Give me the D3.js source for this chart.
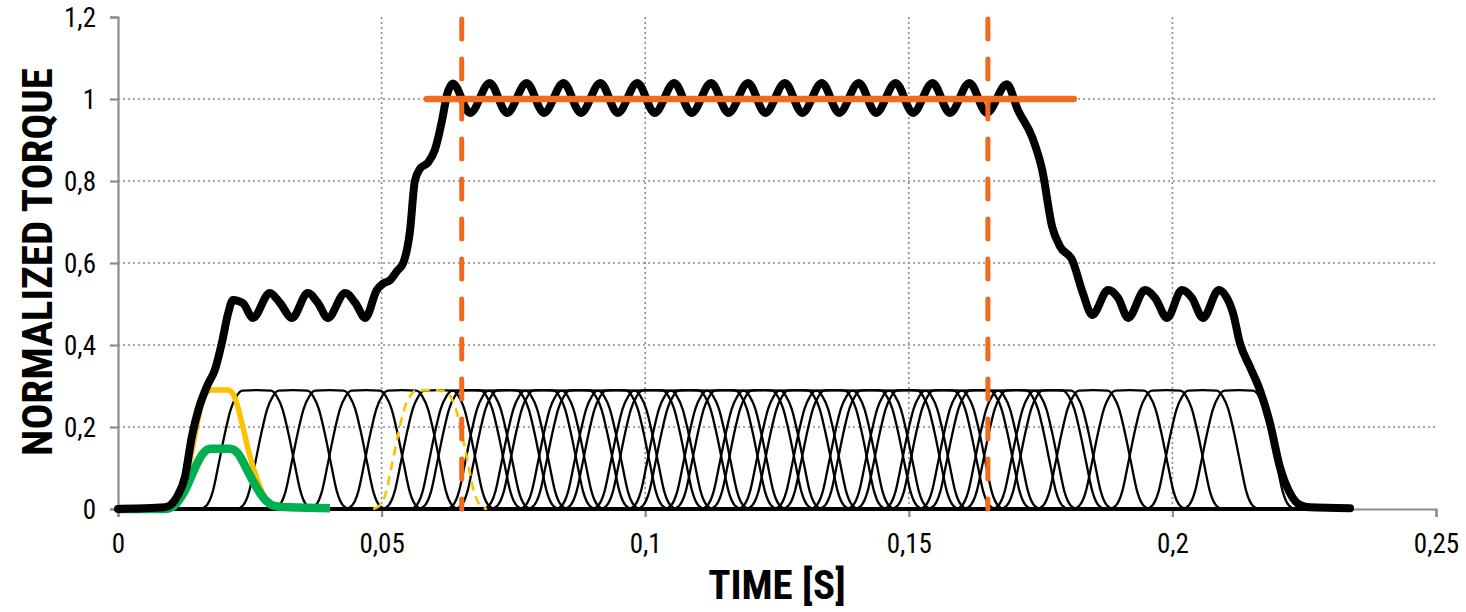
<!DOCTYPE html>
<html>
<head>
<meta charset="utf-8">
<script src="https://cdn.jsdelivr.net/npm/d3@7"></script>
<style>
  html, body { margin: 0; padding: 0; background: #fff; }
  svg { display: block; }
  .tick-label { font-family: "Liberation Sans Narrow", "Arial Narrow", "Roboto Condensed", "Liberation Sans", sans-serif; font-size: 27px; fill: #000; }
  .title { font-family: "Liberation Sans Narrow", "Arial Narrow", "Roboto Condensed", "Liberation Sans", sans-serif; font-weight: bold; fill: #000; }
</style>
</head>
<body>
<svg id="chart" width="1466" height="612"></svg>
<script>
// ---------------- DATA ----------------
const xTicks = [0, 0.05, 0.1, 0.15, 0.2, 0.25];
const xTickLabels = ["0", "0,05", "0,1", "0,15", "0,2", "0,25"];
const yTicks = [0, 0.2, 0.4, 0.6, 0.8, 1.0, 1.2];
const yTickLabels = ["0", "0,2", "0,4", "0,6", "0,8", "1", "1,2"];

// single-coil torque pulse shape (time offset from pulse centre [s], fraction of peak)
const pulseOffset = [-0.0108, -0.0095, -0.0083, -0.0072, -0.0061, -0.0049, -0.0038, -0.0027, 0,
                      0.0027, 0.0038, 0.0049, 0.0061, 0.0072, 0.0083, 0.0095, 0.0108];
const pulseShape  = [0, 0.03, 0.15, 0.38, 0.62, 0.84, 0.95, 0.995, 1,
                     0.995, 0.95, 0.84, 0.62, 0.38, 0.15, 0.03, 0];
const pulsePeak = 0.29;
// each coil series is plotted (at zero) over the whole time span
const seriesStart = 0, seriesEnd = 0.2337;

// centres of the thin black pulses, first group (the first one is drawn yellow)
const pulseCentersA = [0.0263, 0.0332, 0.0401, 0.0470, 0.0539, 0.0608, 0.0677, 0.0746,
  0.0815, 0.0884, 0.0953, 0.1022, 0.1091, 0.1160, 0.1229, 0.1298, 0.1367, 0.1436,
  0.1505, 0.1574, 0.1643, 0.1712, 0.1781, 0.1850, 0.1919, 0.1988, 0.2057, 0.2126];
// second group (the first one is the dashed yellow pulse)
const pulseCentersB = [0.0661, 0.0730, 0.0799, 0.0868, 0.0937, 0.1006, 0.1075, 0.1144,
  0.1213, 0.1282, 0.1351, 0.1420, 0.1489, 0.1558, 0.1627, 0.1696, 0.1765];
const dashedPulseCenter = 0.0592;

// yellow (solid) pulse
const yellowT = [0, 0.0099, 0.0118, 0.0137, 0.0152, 0.0165, 0.0178, 0.0209, 0.0222, 0.0235,
                 0.0250, 0.0266, 0.0281, 0.0298, 0.0326, 0.0402];
const yellowV = [0, 0, 0.03, 0.12, 0.22, 0.28, 0.29, 0.29, 0.27, 0.21,
                 0.13, 0.065, 0.022, 0.008, 0.004, 0.002];
// green pulse
const greenT = [0, 0.0089, 0.0108, 0.0127, 0.0146, 0.0161, 0.0175, 0.0212, 0.0228, 0.0245,
                0.0264, 0.0281, 0.0298, 0.0326, 0.0402];
const greenV = [0, 0, 0.01, 0.045, 0.10, 0.135, 0.147, 0.147, 0.135, 0.095,
                0.05, 0.02, 0.007, 0.004, 0.002];

// total torque (thick black)
const totalT = [0, 0.0089, 0.0112, 0.0127, 0.0140, 0.0152, 0.0169, 0.0184, 0.0197, 0.0209,
  0.0218, 0.0237, 0.0256, 0.0288, 0.0307, 0.0330, 0.0360, 0.0379, 0.0398, 0.0431,
  0.0450, 0.0469, 0.0491, 0.0503, 0.0516, 0.0529, 0.0541, 0.0554, 0.0563, 0.0573,
  0.0588, 0.0601, 0.0615, 0.0624, 0.0635,
  0.0668, 0.0705, 0.0738, 0.0775, 0.0808, 0.0845, 0.0878, 0.0915, 0.0948, 0.0985,
  0.1018, 0.1055, 0.1088, 0.1125, 0.1158, 0.1195, 0.1228, 0.1265, 0.1298, 0.1335,
  0.1368, 0.1405, 0.1438, 0.1475, 0.1508, 0.1545, 0.1578, 0.1615, 0.1648, 0.1686,
  0.1707, 0.1734, 0.1753, 0.1772, 0.1787, 0.1810, 0.1830, 0.1848, 0.1878, 0.1897,
  0.1916, 0.1948, 0.1967, 0.1990, 0.2018, 0.2037, 0.2058, 0.2088, 0.2101, 0.2115,
  0.2128, 0.2147, 0.2166, 0.2185, 0.2204, 0.2223, 0.2242, 0.2261, 0.2337];
const totalV = [0, 0.004, 0.03, 0.078, 0.176, 0.24, 0.30, 0.34, 0.405, 0.478,
  0.51, 0.502, 0.466, 0.527, 0.503, 0.466, 0.527, 0.503, 0.466, 0.527,
  0.503, 0.466, 0.534, 0.55, 0.558, 0.58, 0.60, 0.68, 0.80, 0.83,
  0.845, 0.876, 0.95, 1.01, 1.038,
  0.966, 1.039, 0.966, 1.039, 0.966, 1.039, 0.966, 1.039, 0.966, 1.039,
  0.966, 1.039, 0.966, 1.039, 0.966, 1.039, 0.966, 1.039, 0.966, 1.039,
  0.966, 1.039, 0.966, 1.039, 0.966, 1.039, 0.966, 1.039, 0.966, 1.036,
  0.973, 0.907, 0.827, 0.688, 0.64, 0.607, 0.527, 0.473, 0.534, 0.515,
  0.466, 0.534, 0.515, 0.466, 0.534, 0.515, 0.466, 0.534, 0.52, 0.478,
  0.405, 0.347, 0.29, 0.21, 0.102, 0.039, 0.01, 0.004, 0.002];

// reference lines
const refLevel = 1.0;
const refLevelStart = 0.0586, refLevelEnd = 0.1813;
const refTimes = [0.0652, 0.1650];

// ---------------- CHART ----------------
const svg = d3.select("#chart");
const x = d3.scaleLinear().domain([0, 0.25]).range([118, 1436]);
const y = d3.scaleLinear().domain([0, 1.2]).range([509, 17]);

const gridColor = "#8c8c8c";
// grid
svg.append("g").selectAll("line").data(yTicks.filter(v => v > 0 && v < 1.2)).join("line")
  .attr("x1", x(0)).attr("x2", x(0.25)).attr("y1", d => y(d)).attr("y2", d => y(d))
  .attr("stroke", gridColor).attr("stroke-width", 1.6).attr("stroke-dasharray", "2,3");
svg.append("g").selectAll("line").data(xTicks.filter(v => v > 0 && v < 0.25)).join("line")
  .attr("y1", y(0)).attr("y2", y(1.2)).attr("x1", d => x(d)).attr("x2", d => x(d))
  .attr("stroke", gridColor).attr("stroke-width", 1.6).attr("stroke-dasharray", "2,3");

// axes
const xAxis = d3.axisBottom(x).tickValues(xTicks).tickFormat((d, i) => xTickLabels[i]).tickSize(8).tickPadding(13);
const yAxis = d3.axisLeft(y).tickValues(yTicks).tickFormat((d, i) => yTickLabels[i]).tickSize(8).tickPadding(14);
const gx = svg.append("g").attr("transform", `translate(0,${y(0)})`).call(xAxis);
const gy = svg.append("g").attr("transform", `translate(${x(0)},0)`).call(yAxis);
[gx, gy].forEach(g => {
  g.select(".domain").attr("stroke", gridColor).attr("stroke-width", 2.2);
  g.selectAll(".tick line").attr("stroke", gridColor).attr("stroke-width", 2.2);
  g.selectAll(".tick text").attr("class", "tick-label").attr("fill", "#000");
});
gx.selectAll(".tick text").attr("dy", "0.85em");
gy.selectAll(".tick text").attr("dy", "0.35em");

// titles
svg.append("text").attr("class", "title").attr("x", 777).attr("y", 599)
  .attr("text-anchor", "middle").attr("font-size", 41).text("TIME [S]");
svg.append("text").attr("class", "title")
  .attr("transform", `translate(52,262) rotate(-90)`)
  .attr("text-anchor", "middle").attr("font-size", 43).text("NORMALIZED TORQUE");

const line = d3.line().x(d => x(d[0])).y(d => y(d[1])).curve(d3.curveMonotoneX);
const pulsePts = c => [[seriesStart, 0]]
  .concat(pulseOffset.map((o, i) => [c + o, pulseShape[i] * pulsePeak]))
  .concat([[seriesEnd, 0]]);

// thin black pulses
svg.append("g").selectAll("path").data(pulseCentersA.concat(pulseCentersB)).join("path")
  .attr("d", c => line(pulsePts(c)))
  .attr("fill", "none").attr("stroke", "#000").attr("stroke-width", 2.3);

// dashed yellow pulse
svg.append("path").attr("d", line(pulsePts(dashedPulseCenter).slice(1, -1)))
  .attr("fill", "none").attr("stroke", "#FFC000").attr("stroke-width", 2.6)
  .attr("stroke-dasharray", "9,6");

// yellow and green pulses
svg.append("path").attr("d", line(yellowT.map((t, i) => [t, yellowV[i]])))
  .attr("fill", "none").attr("stroke", "#FFC000").attr("stroke-width", 5.5).attr("stroke-linejoin", "round");
svg.append("path").attr("d", line(greenT.map((t, i) => [t, greenV[i]])))
  .attr("fill", "none").attr("stroke", "#00B050").attr("stroke-width", 8.5).attr("stroke-linejoin", "round");

// total torque
svg.append("path").attr("d", line(totalT.map((t, i) => [t, totalV[i]])))
  .attr("fill", "none").attr("stroke", "#000").attr("stroke-width", 8)
  .attr("stroke-linejoin", "round").attr("stroke-linecap", "round");

// orange reference lines
const orange = "#F26B1D";
svg.append("line").attr("x1", x(refLevelStart)).attr("x2", x(refLevelEnd))
  .attr("y1", y(refLevel)).attr("y2", y(refLevel))
  .attr("stroke", orange).attr("stroke-width", 6.5).attr("stroke-linecap", "round");
svg.append("g").selectAll("line").data(refTimes).join("line")
  .attr("x1", d => x(d)).attr("x2", d => x(d)).attr("y1", y(1.2) + 2).attr("y2", y(0))
  .attr("stroke", orange).attr("stroke-width", 5).attr("stroke-linecap", "round")
  .attr("stroke-dasharray", "20,20");
</script>
</body>
</html>
